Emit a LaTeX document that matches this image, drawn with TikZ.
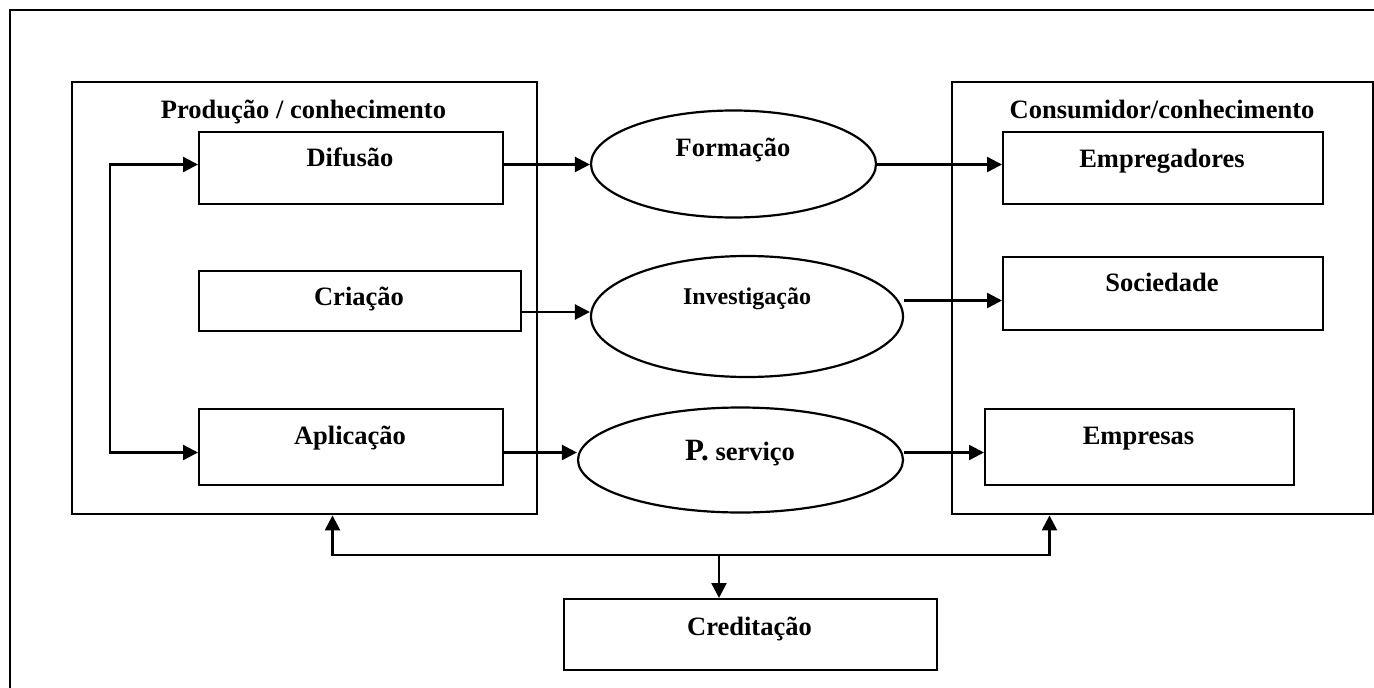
\documentclass[tikz,border=0pt]{standalone}
\usepackage{fontspec}
\setmainfont{Liberation Serif}
\usetikzlibrary{arrows.meta,shapes.geometric}
\tikzset{
  box/.style={draw, line width=2.4pt, rectangle, inner sep=0pt, anchor=north west},
  ell/.style={draw, line width=2.2pt, ellipse, inner sep=0pt},
  txt/.style={anchor=base, inner sep=0pt, font=\bfseries\fontsize{26.5}{30}\selectfont},
  arr/.style={line width=2.4pt, -{Triangle[length=15pt,width=15pt]}},
  arrb/.style={line width=2.4pt, {Triangle[length=15pt,width=15pt]}-{Triangle[length=15pt,width=15pt]}},
}
\begin{document}
\begin{tikzpicture}[x=1pt,y=-1pt]
\useasboundingbox (0,0) rectangle (1374,688);
% page frame (only top and left edges visible)
\coordinate (fTR) at (1374,10);
\coordinate (fTL) at (10,10);
\coordinate (fBL) at (10,688);
\draw[line width=2.6pt] (fTR) -- (fTL) -- (fBL);

% big boxes
\node[box, minimum width=465pt, minimum height=432pt] (L) at (71,81) {};
\node[box, minimum width=421pt, minimum height=432pt] (R) at (951,81) {};
\node[txt] (tL) at (303.5,118) {Produção / conhecimento};
\node[txt] (tR) at (1162,118) {Consumidor/conhecimento};

% left inner boxes
\node[box, minimum width=304pt, minimum height=71.5pt] (dif) at (198,131) {};
\node[box, minimum width=322pt, minimum height=60.5pt] (cri) at (198,269.5) {};
\node[box, minimum width=304pt, minimum height=76pt] (apl) at (198,408) {};
\node[txt] (tdif) at (350,166.5) {Difusão};
\node[txt] (tcri) at (359,305) {Criação};
\node[txt] (tapl) at (350,444) {Aplicação};

% right inner boxes
\node[box, minimum width=320pt, minimum height=72pt] (emp) at (1002,131) {};
\node[box, minimum width=320pt, minimum height=73pt] (soc) at (1002,256) {};
\node[box, minimum width=309pt, minimum height=76pt] (epr) at (984,408) {};
\node[txt] (temp) at (1162,167) {Empregadores};
\node[txt] (tsoc) at (1162,291.5) {Sociedade};
\node[txt] (tepr) at (1138.5,444) {Empresas};

% ellipses
\node[ell, minimum width=285pt, minimum height=107pt] (form) at (733.5,164) {};
\node[ell, minimum width=312pt, minimum height=121pt] (inv) at (747,316.5) {};
\node[ell, minimum width=325pt, minimum height=105pt] (psv) at (740.5,460) {};
\node[txt] (tform) at (733,156.5) {Formação};
\node[txt, font=\bfseries\fontsize{24}{28}\selectfont] (tinv) at (747,304.3) {Investigação};
\node[txt] (tpsv) at (740,460.7) {{\fontsize{31}{34}\selectfont P.} serviço};

% creditação
\node[box, minimum width=373pt, minimum height=71pt] (cred) at (563,598) {};
\node[txt] (tcred) at (749.5,635) {Creditação};

% row coordinates
\coordinate (r1) at (0,164.5);
\coordinate (r2a) at (0,312);
\coordinate (r2b) at (0,300.5);
\coordinate (r3) at (0,452.5);
\coordinate (lx) at (110,0);

% row arrows
\draw[arr] (dif.east |- r1) -- (form.west |- r1);
\draw[arr] (form.east |- r1) -- (emp.west |- r1);
\draw[arr] (cri.east |- r2a) -- (inv.west |- r2a);
\draw[arr] (inv.east |- r2b) -- (soc.west |- r2b);
\draw[arr] (apl.east |- r3) -- (psv.west |- r3);
\draw[arr] (psv.east |- r3) -- (epr.west |- r3);

% left feedback connector
\draw[arrb] (dif.west |- r1) -- (lx |- r1) -- (lx |- r3) -- (apl.west |- r3);

% bottom connector
\coordinate (bL) at (332.5,555);
\coordinate (bR) at (1049.5,555);
\coordinate (bM) at (719,555);
\draw[arrb] (L.south -| bL) -- (bL) -- (bR) -- (R.south -| bR);
\draw[arr] (bM) -- (bM |- cred.north);
\end{tikzpicture}
\end{document}
